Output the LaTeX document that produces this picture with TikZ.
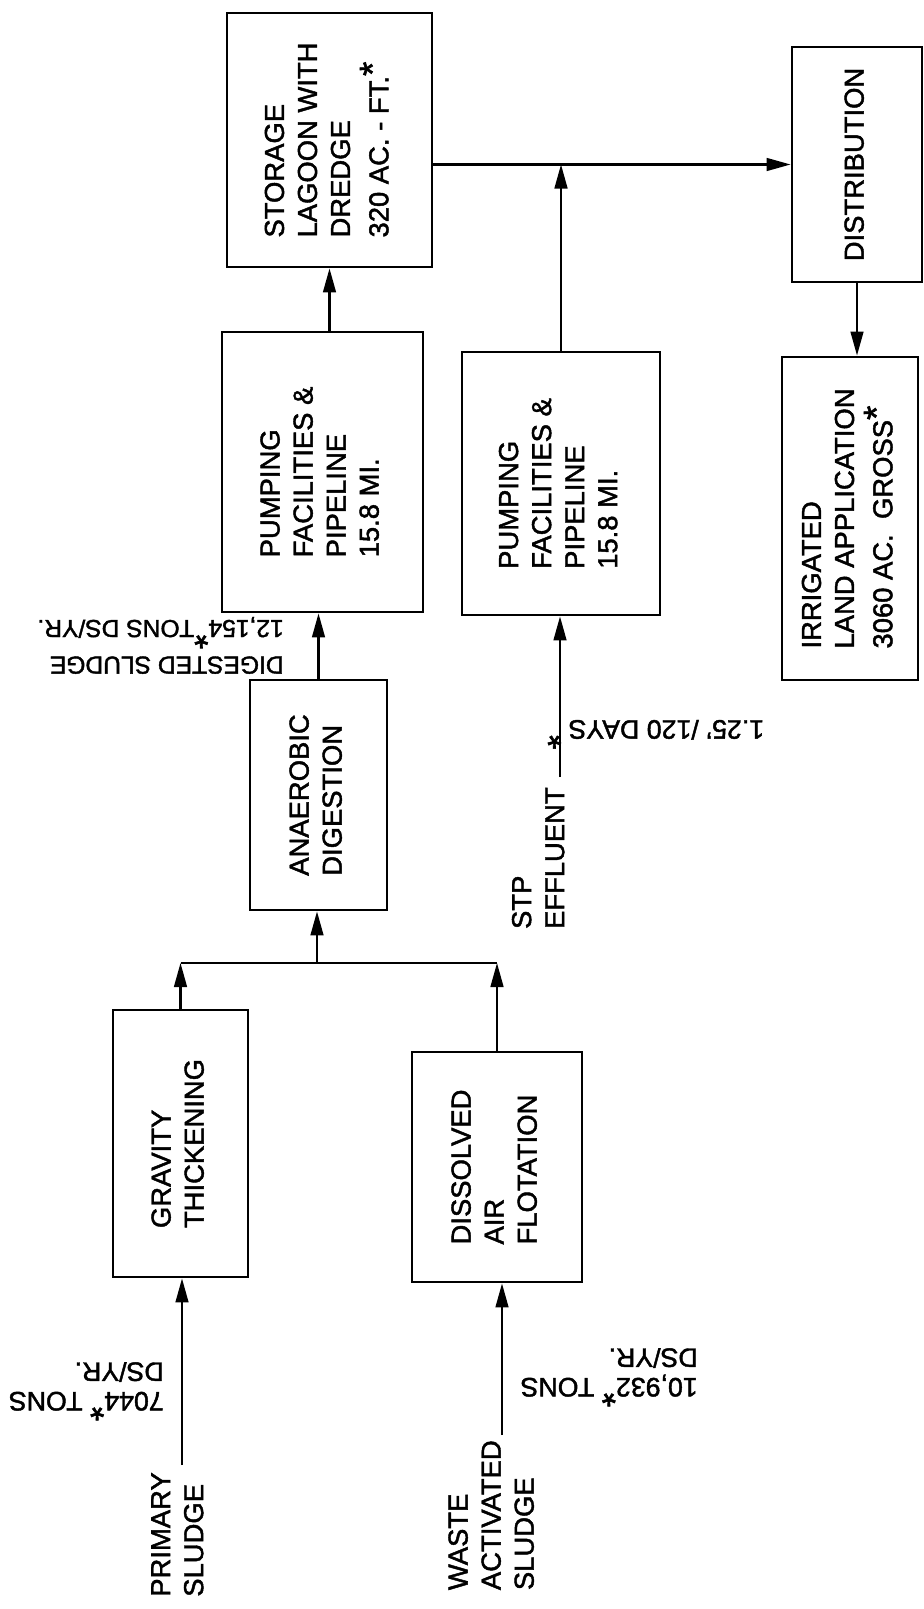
\documentclass[tikz,border=0pt]{standalone}
\usepackage{fontspec}
\setmainfont{Liberation Sans}[FakeBold=1.6]
\usepackage{graphicx}
\usetikzlibrary{arrows.meta, calc, positioning}
\newcommand{\boxfont}{\fontsize{19.5}{23.5}\selectfont}
\newcommand{\ratefont}{\fontsize{19}{21}\selectfont}
\newcommand{\uptext}[1]{\rotatebox{90}{\begin{tabular}{@{}l@{}}#1\end{tabular}}}
\newcommand{\flipped}[1]{\rotatebox{180}{\begin{tabular}{@{}l@{}}#1\end{tabular}}}
\newcommand{\starmark}{\raisebox{0.12em}{\fontsize{26}{26}\selectfont *}}

\begin{document}
\begin{tikzpicture}[x=0.025cm, y=-0.025cm, >={Triangle[length=6mm, width=3.2mm]},
  box/.style={draw, line width=2pt, inner sep=0pt, font=\boxfont},
  lbl/.style={inner sep=0pt, font=\boxfont},
  rate/.style={inner sep=0pt, font=\ratefont},
  flow/.style={->, line width=1.5pt}]
  \fill[white] (0,0) rectangle (924,1609);
  \useasboundingbox (0,0) rectangle (924,1609);
  % treatment units
  \node[box, minimum width=3.375cm, minimum height=6.675cm] (gravity) at (180.5,1143.5) {\uptext{GRAVITY\\THICKENING}};
  \node[box, minimum width=4.25cm, minimum height=5.75cm] (dissolved) at (497,1167) {\uptext{DISSOLVED\\AIR\\FLOTATION}};
  \node[box, minimum width=3.425cm, minimum height=5.75cm] (anaerobic) at (318.5,795) {\uptext{ANAEROBIC\\DIGESTION}};
  \node[box, minimum width=5.025cm, minimum height=7cm] (pumpsludge) at (322.5,472) {\uptext{PUMPING\\FACILITIES \&\\PIPELINE\\15.8 MI.}};
  \node[box, minimum width=5.125cm, minimum height=6.35cm] (storage) at (329.5,140) {\uptext{STORAGE\\LAGOON WITH\\DREDGE\\320 AC. - FT.\starmark}};
  \node[box, minimum width=4.95cm, minimum height=6.575cm] (pumpeff) at (561,483.5) {\uptext{PUMPING\\FACILITIES \&\\PIPELINE\\15.8 MI.}};
  \node[box, minimum width=3.25cm, minimum height=5.875cm] (distribution) at (857,164.5) {\uptext{DISTRIBUTION}};
  \node[box, minimum width=3.4cm, minimum height=8.075cm] (irrigated) at (850,518.5) {\uptext{IRRIGATED\\LAND APPLICATION\\3060 AC.\ \ GROSS\starmark}};
  % inputs
  \coordinate (primin) at (182,1465);
  \coordinate (wasin) at (502,1435);
  \coordinate (stpin) at (560,777);
  \coordinate (merge) at (317,963);
  \node[lbl, anchor=north] (primary) at (180,1472) {\uptext{PRIMARY\\SLUDGE}};
  \node[lbl, anchor=north] (waste) at (494,1440) {\uptext{WASTE\\ACTIVATED\\SLUDGE}};
  \node[lbl, anchor=north] (stp) at (541,787) {\uptext{STP\\EFFLUENT}};
  % quantities
  \node[rate, anchor=east] (primrate) at (164,1387) {\flipped{7044\starmark{} TONS\\DS/YR.}};
  \node[rate, anchor=east] (wasrate) at (698,1373) {\flipped{10,932\starmark{} TONS\\DS/YR.}};
  \node[rate, anchor=east, font=\fontsize{17.5}{20}\selectfont] (digrate) at (284,644) {\flipped{DIGESTED SLUDGE\\12,154\starmark{}TONS DS/YR.}};
  \node[rate, anchor=west] (stprate) at (547,730) {\flipped{1.25' /120 DAYS\kern5pt\starmark}};
  % flows
  \draw[flow] (primin) -- (primin |- gravity.south);
  \draw[flow] (wasin) -- (wasin |- dissolved.south);
  \draw[flow] (gravity.north) -- (gravity.north |- merge);
  \draw[flow] (dissolved.north) -- (dissolved.north |- merge);
  \draw[line width=1.5pt] (gravity.north |- merge) -- (dissolved.north |- merge);
  \draw[flow] (merge) -- (merge |- anaerobic.south);
  \draw[flow] (anaerobic.north) -- (anaerobic.north |- pumpsludge.south);
  \draw[flow] (storage.south |- pumpsludge.north) -- (storage.south);
  \draw[flow] (stpin) -- (stpin |- pumpeff.south);
  \draw[flow] (pumpeff.north) -- (pumpeff.north |- distribution.west);
  \draw[flow] (storage.east |- distribution.west) -- (distribution.west);
  \draw[flow] (distribution.south) -- (distribution.south |- irrigated.north);
\end{tikzpicture}
\end{document}
